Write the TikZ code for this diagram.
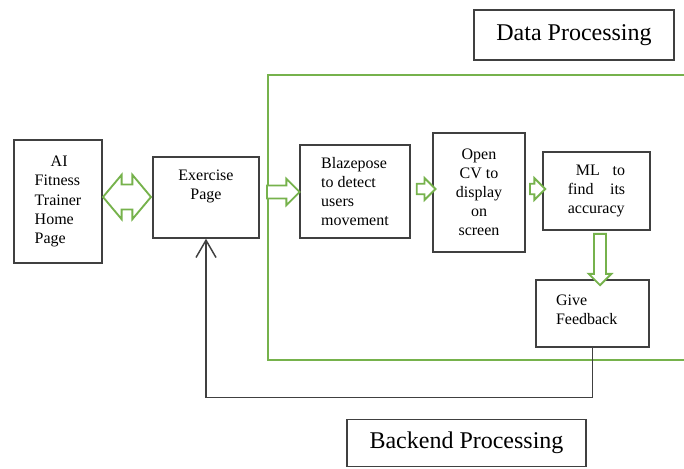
\documentclass[tikz,border=0pt]{standalone}
\usepackage{fontspec}
\setmainfont{Liberation Serif}
\usetikzlibrary{shapes.arrows,arrows.meta}

\definecolor{boxgray}{RGB}{64,64,64}
\definecolor{fitgreen}{RGB}{118,178,76}

\tikzset{
  box/.style={draw=boxgray, line width=1.1pt, inner sep=0pt, font=\fontsize{12pt}{14.3pt}\selectfont},
  title/.style={box, font=\fontsize{18pt}{21pt}\selectfont},
  fatarrow/.style={single arrow, draw=fitgreen, fill=white, line width=1.4pt, inner xsep=0pt, minimum width=0pt},
}

\begin{document}
\begin{tikzpicture}[x=0.75pt,y=0.75pt,yscale=-1]
\useasboundingbox (0,0) rectangle (684,468);

%Data processing frame (open to the right)
\draw[fitgreen, line width=2.2pt] (700,75) -- (268,75) -- (268,360) -- (700,360);

%Pages and steps
\node[box, minimum width=66pt, minimum height=92.25pt, align=left] (home) at (58,201.5) {\hspace*{1em}AI\\Fitness\\Trainer\\Home\\Page};
\node[box, minimum width=79.5pt, minimum height=60.75pt] (ex) at (206,197.5) {\parbox[c][41pt][t]{70pt}{\centering Exercise\\Page}};
\node[box, minimum width=82.5pt, minimum height=69.75pt, align=left] (bp) at (355,191.5) {Blazepose\\to detect\\users\\movement};
\node[box, minimum width=69pt, minimum height=89.25pt, align=center] (cv) at (479,192.5) {Open\\CV to\\display\\on\\screen};
\node[box, minimum width=80.25pt, minimum height=58.5pt, text width=43pt, align=left] (ml) at (596.5,191) {\hspace*{0.5em}ML\hfill to\\find\hfill its\\accuracy};
\node[box, minimum width=84.75pt, minimum height=50.25pt] (fb) at (592.5,313.5) {\parbox[c][27.75pt][t]{54.75pt}{\raggedright Give\\Feedback}};

%Titles
\node[title, minimum width=150pt, minimum height=37.5pt] (data) at (574,35) {Data Processing};
\node[title, minimum width=179.25pt, minimum height=35.25pt] (backend) at (466.5,443) {Backend Processing};

%Hollow arrows
\node[fatarrow, double arrow, double arrow head extend=7.2pt, double arrow tip angle=100, inner ysep=8.7pt, minimum height=36pt] (a0) at (127,197) {};
\node[fatarrow, single arrow head extend=5pt, inner ysep=4.2pt, minimum height=24.5pt] (a1) at (280,192) {};
\node[fatarrow, single arrow head extend=4.3pt, inner ysep=3.2pt, minimum height=14pt] (a2) at (423.5,189) {};
\node[fatarrow, single arrow head extend=4.3pt, inner ysep=3.2pt, minimum height=11.5pt] (a3) at (535,189) {};
\node[fatarrow, single arrow head extend=4pt, inner ysep=3.8pt, minimum height=38.5pt, rotate=-90] (a4) at (600,256.5) {};

%Feedback back to the exercise page
\draw[boxgray, line width=1.1pt, -{Straight Barb[length=13pt,width=15pt]}] (fb.south) -- ++(0,50) -| (ex.south);

\end{tikzpicture}
\end{document}
